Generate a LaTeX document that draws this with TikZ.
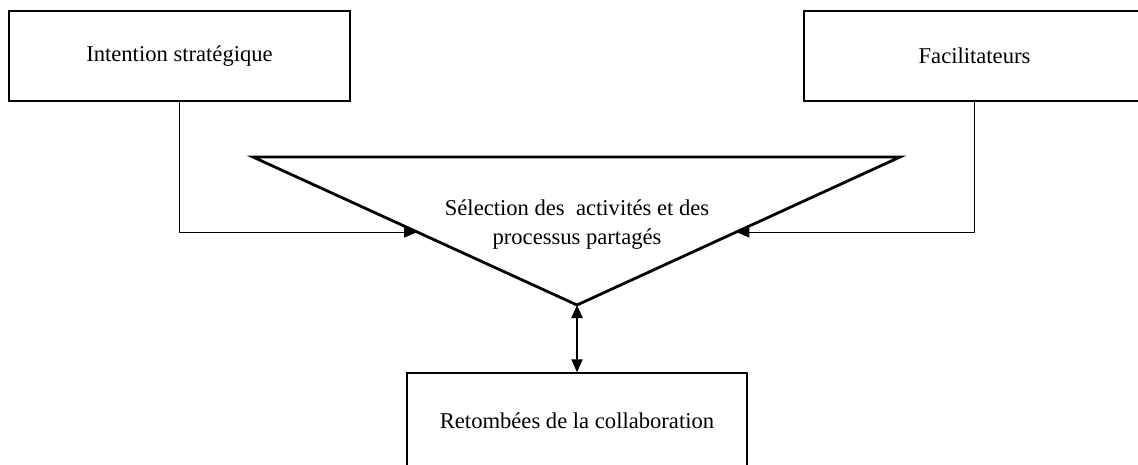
\documentclass[tikz,border=0pt]{standalone}
\usepackage{fontspec}
\setmainfont{Liberation Serif}
\usetikzlibrary{arrows.meta,calc}
\begin{document}
\begin{tikzpicture}[x=1pt,y=-1pt,
  box/.style={draw,line width=1.4pt,minimum width=341pt,minimum height=90pt,inner sep=0pt,
    font=\fontsize{22.6}{29}\selectfont},
  conn/.style={line width=1pt,-{Triangle[length=13pt,width=11pt]}},
  dbl/.style={line width=2pt,{Triangle[length=13pt,width=11pt]}-{Triangle[length=13pt,width=11pt]}},
  tri/.style={line width=2.8pt,line join=miter},
  lbl/.style={align=center,inner sep=0pt,font=\fontsize{22.6}{29}\selectfont}]
\useasboundingbox (0,0) rectangle (1138,464);
\node[box] (intent) at (179.5,56) {Intention stratégique};
\node[box] (facil) at (974.5,56) {Facilitateurs};
\node[box,minimum width=340pt,minimum height=96pt] (retomb) at (577,421) {Retombées de la collaboration};
\coordinate (tl) at (253,157);
\coordinate (tr) at (900,157);
\coordinate (tb) at (577,305);
\draw[tri] (tl) -- (tr) -- (tb) -- cycle;
\node[lbl] (sel) at (577,225) {Sélection des\ \ activités et des\\processus partagés};
\coordinate (inL) at ($(tl)!0.5068!(tb)$);
\coordinate (inR) at ($(tr)!0.5068!(tb)$);
\draw[conn] (intent.south) -- (intent.south |- inL) -- (inL);
\draw[conn] (facil.south) -- (facil.south |- inR) -- (inR);
\draw[dbl] (tb) -- (retomb.north);
\end{tikzpicture}
\end{document}
